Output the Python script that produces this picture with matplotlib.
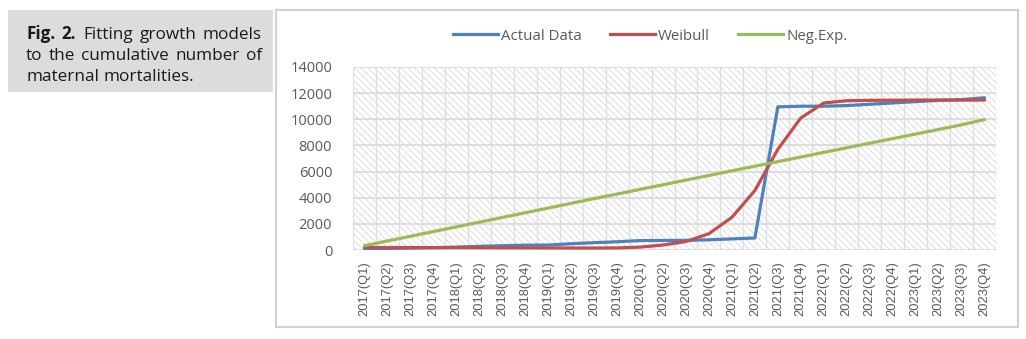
import numpy as np
import matplotlib
matplotlib.use("Agg")
import matplotlib.pyplot as plt
from matplotlib.patches import Rectangle
from matplotlib.lines import Line2D

# quarters 2017 Q1 .. 2023 Q4
quarters = [f"{y}(Q{q})" for y in range(2017, 2024) for q in range(1, 5)]

actual = [100, 120, 150, 180, 220, 280, 330, 370, 380, 480, 560, 630, 720, 730,
          740, 780, 850, 920, 10950, 11000, 11000, 11050, 11150, 11250, 11350,
          11450, 11500, 11650]
weibull = [200, 190, 185, 180, 180, 175, 170, 165, 160, 155, 150, 160, 220, 380,
           650, 1250, 2500, 4550, 7700, 10100, 11250, 11420, 11450, 11460, 11470,
           11470, 11470, 11470]
neg_exp = [330, 690, 1050, 1410, 1770, 2130, 2490, 2850, 3210, 3570, 3930, 4280,
           4640, 4990, 5350, 5700, 6060, 6410, 6760, 7110, 7470, 7820, 8170, 8520,
           8870, 9220, 9580, 9980]

series_names = ["Actual Data", "Weibull", "Neg.Exp."]
colors = ["#4F81BD", "#C0504D", "#9BBB59"]
grey_txt = "#595959"

caption_lines = [[("Fig.", "bold"), ("2.", "bold"), ("Fitting", "normal"),
                  ("growth", "normal"), ("models", "normal")],
                 [("to", "normal"), ("the", "normal"), ("cumulative", "normal"),
                  ("number", "normal"), ("of", "normal")],
                 [("maternal", "normal"), ("mortalities.", "normal")]]

plt.rcParams["hatch.linewidth"] = 0.45
plt.rcParams["hatch.color"] = "#cccccc"

fig = plt.figure(figsize=(10.26, 3.39), dpi=100)
W, H = 1026, 339

# caption box on the left
fig.patches.append(Rectangle((8 / W, 1 - 92 / H), 265 / W, 82 / H,
                             transform=fig.transFigure, facecolor="#dcdcdc",
                             edgecolor="none", zorder=-2))
# chart frame
fig.patches.append(Rectangle((276 / W, 1 - 327 / H), 742 / W, 317 / H,
                             transform=fig.transFigure, facecolor="white",
                             edgecolor="#d0d0d0", linewidth=1.5, zorder=-2))

# justified caption text
renderer = fig.canvas.get_renderer()
x0, x1 = 26, 262
for i, words in enumerate(caption_lines):
    ybase = 1 - (39 + 21 * i) / H
    texts = [fig.text(0, ybase, w, fontsize=12.3, family="Open Sans",
                      fontweight=wt, color="#1a1a1a", va="baseline")
             for w, wt in words]
    widths = [t.get_window_extent(renderer).width for t in texts]
    if i < len(caption_lines) - 1:
        gap = (x1 - x0 - sum(widths)) / (len(texts) - 1)
    else:
        gap = 4.5
    pos = x0
    for t, wdt in zip(texts, widths):
        t.set_x(pos / W)
        pos += wdt + gap

ax = fig.add_axes([353 / W, 1 - 250 / H, 643 / W, 183 / H])
ax.set_facecolor("none")
ax.add_patch(Rectangle((0, 0), 1, 1, transform=ax.transAxes, facecolor="white",
                       edgecolor="#cccccc", linewidth=0, hatch="\\\\\\\\\\",
                       zorder=0))

x = np.arange(len(quarters))
for vals, c in zip([actual, weibull, neg_exp], colors):
    ax.plot(x, vals, color=c, linewidth=2.3, zorder=3, solid_capstyle="round")

ax.set_xlim(-0.5, len(quarters) - 0.5)
ax.set_ylim(0, 14000)
ax.set_yticks(range(0, 14001, 2000))
ax.set_xticks(x)
ax.set_xticklabels(quarters, rotation=90, fontsize=9.3, family="Liberation Sans",
                   color=grey_txt)
ax.set_xticks(np.arange(-0.5, len(quarters), 1), minor=True)
for lab in ax.get_yticklabels():
    lab.set_fontsize(10.5)
    lab.set_family("Open Sans")
    lab.set_color(grey_txt)
ax.tick_params(axis="both", which="both", length=0)
ax.tick_params(axis="y", pad=15)
ax.tick_params(axis="x", pad=8)
ax.grid(axis="y", which="major", color="#d9d9d9", linewidth=1.2, zorder=1)
ax.grid(axis="x", which="minor", color="#dedede", linewidth=1.0, zorder=1)
for s in ax.spines.values():
    s.set_visible(False)
ax.set_axisbelow(True)

handles = [Line2D([], [], color=c, linewidth=2.3) for c in colors]
fig.legend(handles, series_names, loc="center", bbox_to_anchor=(650 / W, 1 - 36 / H),
           ncol=3, frameon=False, handlelength=3.0, handletextpad=0.2,
           columnspacing=1.9, prop={"family": "Open Sans", "size": 10.8},
           labelcolor=grey_txt)

fig.savefig("out.png", dpi=100)
